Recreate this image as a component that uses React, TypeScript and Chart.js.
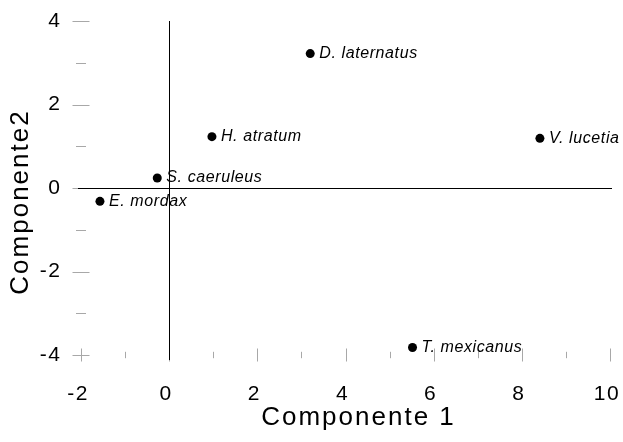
import React, { useEffect, useRef } from 'react';
import { Chart, registerables } from 'chart.js';

Chart.register(...registerables);

const species = ['D. laternatus', 'H. atratum', 'V. lucetia', 'S. caeruleus', 'E. mordax', 'T. mexicanus'];
const comp1 = [3.2, 0.97, 8.41, -0.27, -1.57, 5.52];
const comp2 = [3.22, 1.23, 1.19, 0.24, -0.32, -3.82];
const xTicks = [-2, 0, 2, 4, 6, 8, 10];
const yTicks = [-4, -2, 0, 2, 4];

const FAMILY = '"Liberation Sans", Arial, sans-serif';

const drawTweaks = {
  id: 'drawTweaks',
  afterLayout(chart: any) {
    ['x', 'y'].forEach((id) => {
      const s = chart.scales[id];
      if (!s || s._wrapped) return;
      s._wrapped = true;
      const dt = s.drawTitle.bind(s);
      const dl = s.drawLabels.bind(s);
      s.drawTitle = function (...a: any[]) {
        const ctx = this.ctx;
        ctx.save();
        ctx.letterSpacing = '2px';
        if (id === 'y') ctx.translate(0, 14);
        else ctx.translate(13, 0);
        dt(...a);
        ctx.restore();
      };
      s.drawLabels = function (...a: any[]) {
        const ctx = this.ctx;
        ctx.save();
        ctx.letterSpacing = '1.5px';
        dl(...a);
        ctx.restore();
      };
    });
  },
};

const tickPlugin = {
  id: 'tickMarks',
  beforeDatasetsDraw(chart: any) {
    const { ctx, chartArea, scales } = chart;
    const xs = scales.x;
    const ys = scales.y;
    ctx.save();
    ctx.strokeStyle = '#a8a8a8';
    ctx.lineWidth = 1;
    const cy = chartArea.bottom;
    xs.ticks.forEach((t: any) => {
      const major = xTicks.includes(t.value);
      const half = major ? 6.5 : 3.2;
      const px = Math.round(xs.getPixelForValue(t.value)) + 0.5;
      ctx.beginPath();
      ctx.moveTo(px, cy - half);
      ctx.lineTo(px, cy + half);
      ctx.stroke();
    });
    const cx = chartArea.left;
    ys.ticks.forEach((t: any) => {
      const major = yTicks.includes(t.value);
      const half = major ? 8.5 : 5;
      const py = Math.round(ys.getPixelForValue(t.value)) + 0.5;
      ctx.beginPath();
      ctx.moveTo(cx - half, py);
      ctx.lineTo(cx + half, py);
      ctx.stroke();
    });
    // zero reference lines, slightly extended past the plot edges
    ctx.strokeStyle = '#000';
    const zx = Math.round(xs.getPixelForValue(0)) + 0.5;
    const zy = Math.round(ys.getPixelForValue(0)) + 0.5;
    ctx.beginPath();
    ctx.moveTo(zx, chartArea.top);
    ctx.lineTo(zx, chartArea.bottom + 5);
    ctx.moveTo(chartArea.left - 3, zy);
    ctx.lineTo(chartArea.right + 2, zy);
    ctx.stroke();
    ctx.restore();
  },
};

const labelPlugin = {
  id: 'pointLabels',
  afterDatasetsDraw(chart: any) {
    const { ctx } = chart;
    const meta = chart.getDatasetMeta(0);
    ctx.save();
    ctx.letterSpacing = '0.6px';
    ctx.font = 'italic 16px ' + FAMILY;
    ctx.fillStyle = '#000';
    ctx.textAlign = 'left';
    ctx.textBaseline = 'middle';
    meta.data.forEach((el: any, i: number) => {
      ctx.fillText(species[i], el.x + 9, el.y);
    });
    ctx.restore();
  },
};

const zeroPadding = (s: any) => {
  s.paddingTop = 0;
  s.paddingBottom = 0;
  s.paddingLeft = 0;
  s.paddingRight = 0;
};

export default function App() {
  const ref = useRef<HTMLCanvasElement>(null);
  useEffect(() => {
    const chart = new Chart(ref.current as HTMLCanvasElement, {
      type: 'scatter',
      data: {
        datasets: [
          {
            data: comp1.map((x, i) => ({ x, y: comp2[i] })),
            backgroundColor: '#000',
            borderColor: '#000',
            borderWidth: 0,
            pointRadius: 4.5,
            pointHoverRadius: 4.5,
          },
        ],
      },
      options: {
        responsive: false,
        animation: false,
        devicePixelRatio: 1,
        events: [],
        layout: { padding: { left: 0, right: 13, top: 21, bottom: 0 } },
        plugins: { legend: { display: false }, tooltip: { enabled: false } },
        scales: {
          x: {
            type: 'linear',
            position: 'bottom',
            min: -2,
            max: 10,
            ticks: {
              stepSize: 1,
              autoSkip: false,
              maxRotation: 0,
              padding: 22,
              labelOffset: -3,
              color: '#000',
              font: { family: FAMILY, size: 21 },
              callback: (v: any) => (xTicks.includes(v) ? String(v) : ''),
            },
            grid: {
              color: (c: any) => (c.tick && c.tick.value === 0 ? '#000' : 'rgba(0,0,0,0)'),
              lineWidth: 1,
              drawTicks: true,
              tickLength: 5,
            },
            border: { display: false },
            title: {
              display: true,
              text: 'Componente 1',
              color: '#000',
              font: { family: FAMILY, size: 26 },
              padding: { top: 0, bottom: 9 },
            },
            afterFit: (s: any) => {
              s.height = 87;
              zeroPadding(s);
            },
          },
          y: {
            type: 'linear',
            position: 'left',
            min: -4,
            max: 4,
            ticks: {
              stepSize: 1,
              autoSkip: false,
              padding: 16.5,
              color: '#000',
              font: { family: FAMILY, size: 21 },
              callback: (v: any) => (yTicks.includes(v) ? String(v) : ''),
            },
            grid: {
              color: (c: any) => (c.tick && c.tick.value === 0 ? '#000' : 'rgba(0,0,0,0)'),
              lineWidth: 1,
              drawTicks: true,
              tickLength: 3,
            },
            border: { display: false },
            title: {
              display: true,
              text: 'Componente2',
              color: '#000',
              font: { family: FAMILY, size: 26 },
              padding: { top: 5, bottom: 0 },
            },
            afterFit: (s: any) => {
              s.width = 81;
              zeroPadding(s);
            },
          },
        },
      } as any,
      plugins: [drawTweaks, tickPlugin, labelPlugin],
    });
    return () => chart.destroy();
  }, []);
  return (
    <div style={{ position: 'fixed', left: 0, top: 0, width: 623, height: 442, background: '#fff' }}>
      <canvas ref={ref} width={623} height={442} style={{ display: 'block' }} />
    </div>
  );
}
